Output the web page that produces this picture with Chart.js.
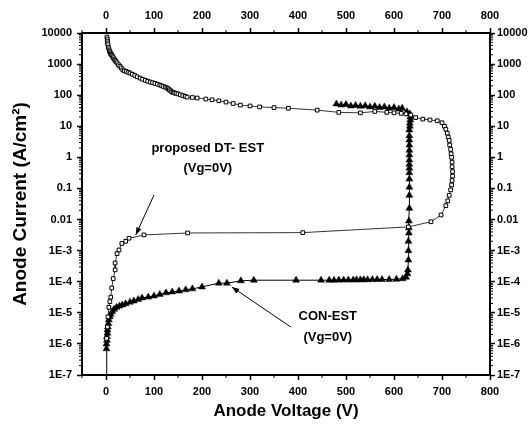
<!DOCTYPE html>
<html>
<head>
<meta charset="utf-8">
<script src="https://cdn.jsdelivr.net/npm/chart.js@4/dist/chart.umd.min.js"></script>
<style>
html,body{margin:0;padding:0;background:#fff;}
#wrap{width:529px;height:429px;position:relative;}
</style>
</head>
<body>
<div id="wrap"><canvas id="c" width="529" height="429"></canvas></div>
<script>
// ---- data ----
const dtVoltage = [2,2.5,3,3.5,4,5,6,7,8,9,10,11,12,14,15,17,19,21,23,26,29,32,35,38,42,46,50,55,60,65,71,76,82,87,92,97,102,107,112,116,120,124,127,130,132,135,137,140,143,146,150,155,160,165,169,180,190,
  208,221,235,250,265,280,300,320,350,380,440,485,530,560,585,600,615,625,635,645,660,675,690,700,705,708,711,713,715,716,718,719,720,721,721,722,722,721,720,718,715,712,708,698,677,630,410,170,79,48,41,33,27,23,19,19,15,12,10,8,6,4,3,1];
const dtCurrent = [7400,6400,5500,4800,4200,3500,3100,2700,2500,2300,2100,2050,1950,1750,1600,1450,1300,1200,1090,950,850,750,650,610,580,545,515,470,430,390,355,325,300,282,265,252,240,226,213,200,190,180,170,160,148,137,127,122,118,114,110,103,97,92,87,84,81,
  75,71,66,60,54,48,45,42,40,38,33,28,27,30,28,27,26,25,23,19,17,16,15,13,10,8,6,4.5,3.5,2.5,1.8,1.3,1,0.7,0.5,0.35,0.25,0.18,0.13,0.09,0.06,0.04,0.028,0.014,0.0085,0.0058,0.0038,0.0037,0.0032,0.0025,0.002,0.0017,0.00105,0.0008,0.0004,0.00024,0.000126,0.000063,0.000032,0.000023,0.000015,0.0000074,0.0000035,0.0000015];

const conVoltage = [0,1,1,2,2,3,3,4,5,6,8,10,13,17,22,28,34,41,50,58,67,75,88,100,112,125,138,152,166,180,200,235,252,281,308,396,448,465,475,485,495,505,515,522,530,537,545,555,565,575,590,605,618,625,628,629,630,630,630,631,631,631,632,632,632,632,632,632,632,632,632,632,632,632,632,632,633,633,634,634,633,627,617,610,600,590,580,570,560,550,540,530,520,510,500,490,480];
const conCurrent = [1e-8,7e-7,1e-6,1.3e-6,1.7e-6,2.2e-6,2.8e-6,3.5e-6,4.5e-6,6e-6,7.5e-6,9e-6,1.1e-5,1.3e-5,1.5e-5,1.65e-5,1.8e-5,1.95e-5,2.2e-5,2.4e-5,2.7e-5,3e-5,3.2e-5,3.5e-5,3.9e-5,4.4e-5,4.7e-5,5e-5,5.5e-5,5.9e-5,6.8e-5,9e-5,9e-5,1.07e-4,1.12e-4,1.12e-4,1.12e-4,1.12e-4,1.12e-4,1.13e-4,1.13e-4,1.14e-4,1.14e-4,1.15e-4,1.15e-4,1.16e-4,1.16e-4,1.17e-4,1.17e-4,1.18e-4,1.18e-4,1.2e-4,1.25e-4,1.4e-4,1.8e-4,2.4e-4,5e-4,1e-3,2e-3,3.7e-3,5.4e-3,9e-3,0.023,0.06,0.11,0.2,0.32,0.45,0.6,0.83,1.2,1.7,2.5,3.6,5,7.6,10,12.6,16,20,25,29,38,36,40,38,42,40,44,42,46,44,47,45,50,48,52];

const xTickValues = [0,100,200,300,400,500,600,700,800];
const yTickValues = [1e-7,1e-6,1e-5,1e-4,1e-3,1e-2,1e-1,1,10,100,1000,10000];
const yTickLabels = ['1E-7','1E-6','1E-5','1E-4','1E-3','0.01','0.1','1','10','100','1000','10000'];

const xTitle = 'Anode Voltage (V)';
const yTitle = 'Anode Current (A/cm\u00B2)';
const dtLabel = ['proposed DT- EST','(Vg=0V)'];
const conLabel = ['CON-EST','(Vg=0V)'];

// ---- helpers ----
const toPts = (xs, ys) => xs.map((v,i)=>({x:v, y:ys[i]}));
const FONT = '"Liberation Sans", Arial, sans-serif';
const tickFont = {family: FONT, size: 11, weight: 'bold'};
const xTitleFont = {family: FONT, size: 17, weight: 'bold'};
const yTitleFont = {family: FONT, size: 19, weight: 'bold'};

function xAxis(pos, h){
  return {
    type:'linear', position:pos, min:-50, max:800,
    afterBuildTicks: s => { s.ticks = xTickValues.map(v=>({value:v})); },
    ticks:{font:tickFont, color:'#000', padding: 5, maxRotation:0, autoSkip:false},
    grid:{drawOnChartArea:false, drawTicks:true, tickLength:5, tickColor:'#000', tickWidth:1.5},
    border:{display:true, color:'#000', width:2},
    title: pos==='bottom' ? {display:true, text:xTitle, font:xTitleFont, color:'#000', padding:{top:0,bottom:7}} : {display:false},
    afterFit: s => { s.height = h; }
  };
}
function yAxis(pos, w){
  return {
    type:'logarithmic', position:pos, min:1e-7, max:1e4,
    afterBuildTicks: s => { s.ticks = yTickValues.map(v=>({value:v})); },
    ticks:{font:tickFont, color:'#000', padding: pos==='left'?5:2, autoSkip:false,
      callback: (v) => { const i = yTickValues.findIndex(t => Math.abs(Math.log10(t)-Math.log10(v))<1e-6); return i>=0 ? yTickLabels[i] : ''; }},
    grid:{drawOnChartArea:false, drawTicks:true, tickLength:5, tickColor:'#000', tickWidth:1.5},
    border:{display:true, color:'#000', width:2},
    title: pos==='left' ? {display:true, text:yTitle, font:yTitleFont, color:'#000', padding:{top:9,bottom:0}} : {display:false},
    afterFit: s => { s.width = w; }
  };
}

const minorTicks = {
  id:'minorTicks',
  afterDraw(chart){
    const ctx = chart.ctx, a = chart.chartArea;
    ctx.save();
    ctx.strokeStyle = '#000'; ctx.lineWidth = 1;
    const L = 3;
    ['x','x2'].forEach(id => {
      const s = chart.scales[id];
      for (let v=-50; v<=800; v+=100){
        const p = s.getPixelForValue(v);
        ctx.beginPath();
        if (id==='x'){ ctx.moveTo(p,a.bottom); ctx.lineTo(p,a.bottom+L); }
        else { ctx.moveTo(p,a.top); ctx.lineTo(p,a.top-L); }
        ctx.stroke();
      }
    });
    ['y','y2'].forEach(id => {
      const s = chart.scales[id];
      for (let k=-7; k<4; k++){
        for (let m=2; m<10; m++){
          const p = s.getPixelForValue(m*Math.pow(10,k));
          ctx.beginPath();
          if (id==='y'){ ctx.moveTo(a.left,p); ctx.lineTo(a.left-L,p); }
          else { ctx.moveTo(a.right,p); ctx.lineTo(a.right+L,p); }
          ctx.stroke();
        }
      }
    });
    ctx.restore();
  }
};

// annotation anchors in data units
const notes = [
  {lines: dtLabel, x: 212, y: 1.9, gap: 0.64, arrowFrom:{x:100,y:0.062}, arrowTo:{x:62,y:0.0032}},
  {lines: conLabel, x: 462, y: 7.5e-6, gap: 0.67, arrowFrom:{x:385,y:3.5e-6}, arrowTo:{x:262,y:6.8e-5}}
];

const annot = {
  id:'annot',
  afterDatasetsDraw(chart){
    const ctx = chart.ctx, sx = chart.scales.x, sy = chart.scales.y;
    ctx.save();
    ctx.fillStyle = '#000'; ctx.strokeStyle = '#000';
    ctx.font = 'bold 13px ' + FONT;
    ctx.textAlign = 'center'; ctx.textBaseline = 'middle';
    notes.forEach(n => {
      const px = sx.getPixelForValue(n.x);
      const py0 = sy.getPixelForValue(n.y);
      const py1 = sy.getPixelForValue(n.y*Math.pow(10,-n.gap));
      ctx.fillText(n.lines[0], px, py0);
      ctx.fillText(n.lines[1], px, py1);
      const x1 = sx.getPixelForValue(n.arrowFrom.x), y1 = sy.getPixelForValue(n.arrowFrom.y);
      const x2 = sx.getPixelForValue(n.arrowTo.x), y2 = sy.getPixelForValue(n.arrowTo.y);
      ctx.lineWidth = 1;
      ctx.beginPath(); ctx.moveTo(x1,y1); ctx.lineTo(x2,y2); ctx.stroke();
      const ang = Math.atan2(y2-y1, x2-x1), len = 8, w = 0.35;
      ctx.beginPath();
      ctx.moveTo(x2,y2);
      ctx.lineTo(x2 - len*Math.cos(ang-w), y2 - len*Math.sin(ang-w));
      ctx.lineTo(x2 - len*Math.cos(ang+w), y2 - len*Math.sin(ang+w));
      ctx.closePath(); ctx.fill();
    });
    ctx.restore();
  }
};

new Chart(document.getElementById('c'), {
  type:'scatter',
  data:{
    datasets:[
      {label:'proposed DT-EST', data: toPts(dtVoltage, dtCurrent), showLine:true,
       borderColor:'#000', borderWidth:0.8, backgroundColor:'#fff',
       pointStyle:'rect', pointRadius:2.6, pointBorderWidth:1, pointBorderColor:'#000', pointBackgroundColor:'#fff'},
      {label:'CON-EST', data: toPts(conVoltage, conCurrent), showLine:true,
       borderColor:'#000', borderWidth:1, backgroundColor:'#000',
       pointStyle:'triangle', pointRadius:4, pointBorderWidth:0.5, pointBorderColor:'#000', pointBackgroundColor:'#000'}
    ]
  },
  options:{
    responsive:false, animation:false,
    layout:{padding:0},
    plugins:{legend:{display:false}, tooltip:{enabled:false}},
    scales:{
      x: xAxis('bottom', 54),
      x2: xAxis('top', 33),
      y: yAxis('left', 82),
      y2: yAxis('right', 39)
    }
  },
  plugins:[minorTicks, annot]
});
</script>
</body>
</html>
